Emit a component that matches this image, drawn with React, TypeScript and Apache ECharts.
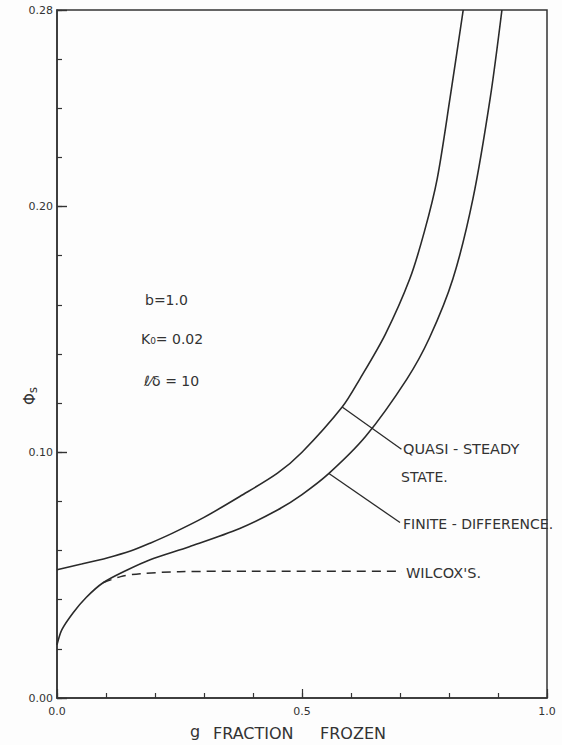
import React, { useEffect, useRef } from "react";
import * as echarts from "echarts";

// Quasi-steady state curve (upper solid)
const quasiG = [0, 0.05, 0.102, 0.15, 0.19, 0.237, 0.3, 0.373, 0.45, 0.5, 0.582, 0.618, 0.67, 0.72, 0.75, 0.776, 0.802, 0.829];
const quasiPhi = [0.0522, 0.0545, 0.057, 0.0598, 0.063, 0.0672, 0.0735, 0.082, 0.0915, 0.1, 0.1184, 0.1298, 0.148, 0.1706, 0.19, 0.2114, 0.244, 0.28];

// Finite-difference curve (lower solid)
const fdG = [0, 0.01, 0.033, 0.06, 0.094, 0.14, 0.19, 0.27, 0.373, 0.45, 0.5, 0.555, 0.63, 0.714, 0.76, 0.808, 0.849, 0.884, 0.908];
const fdPhi = [0.0216, 0.0278, 0.0347, 0.041, 0.0469, 0.0518, 0.0563, 0.0616, 0.069, 0.0765, 0.0828, 0.0914, 0.1065, 0.1298, 0.1465, 0.1706, 0.2033, 0.244, 0.28];

// Wilcox's (dashed)
const wilcoxG = [0.094, 0.13, 0.17, 0.25, 0.4, 0.704];
const wilcoxPhi = [0.0469, 0.0494, 0.0506, 0.0514, 0.0516, 0.0516];

// Leader lines from curves to their labels
const quasiLeaderG = [0.582, 0.703];
const quasiLeaderPhi = [0.1184, 0.1012];
const fdLeaderG = [0.555, 0.7];
const fdLeaderPhi = [0.0914, 0.0714];

// Axis tick settings
const xMinorStep = 0.1;
const xMajorStep = 0.5;
const yMinorStep = 0.02;
const yMajorStep = 0.1;

const zip = (a: number[], b: number[]) => a.map((v, i) => [v, b[i]]);

const INK = "#333333";
const FONT = "'DejaVu Sans', sans-serif";

export default function App() {
  const ref = useRef<HTMLDivElement>(null);

  useEffect(() => {
    if (!ref.current) return;
    const chart = echarts.init(ref.current, undefined, { renderer: "svg" });

    const lineBase = {
      type: "line",
      showSymbol: false,
      symbol: "none",
      xAxisIndex: 0,
      yAxisIndex: 0,
      silent: true,
    };

    const txt = (text: string, x: number, y: number, size: number, extra: any = {}) => ({
      type: "text",
      x,
      y,
      silent: true,
      ...extra,
      style: {
        text,
        fill: INK,
        font: `${size}px ${FONT}`,
        align: "left",
        verticalAlign: "middle",
        textAlign: "left",
        textVerticalAlign: "middle",
        ...(extra.style || {}),
      },
    });

    const option: any = {
      animation: false,
      backgroundColor: "#fdfdfd",
      grid: {
        left: 57,
        right: 15,
        top: 10,
        bottom: 47,
        show: true,
        borderColor: INK,
        borderWidth: 1.5,
        backgroundColor: "transparent",
      },
      xAxis: [
        {
          type: "value",
          min: 0,
          max: 1,
          interval: xMinorStep,
          position: "bottom",
          axisLine: { lineStyle: { color: INK, width: 1.5 } },
          axisTick: { inside: true, length: 5, lineStyle: { color: INK, width: 1.2 } },
          axisLabel: { show: false },
          splitLine: { show: false },
        },
        {
          type: "value",
          min: 0,
          max: 1,
          interval: xMajorStep,
          position: "bottom",
          axisLine: { show: false },
          axisTick: { inside: true, length: 9, lineStyle: { color: INK, width: 1.2 } },
          axisLabel: {
            formatter: (v: number) => v.toFixed(1),
            fontSize: 11,
            color: INK,
            fontFamily: FONT,
            margin: 8,
          },
          splitLine: { show: false },
        },
      ],
      yAxis: [
        {
          type: "value",
          min: 0,
          max: 0.28,
          interval: yMinorStep,
          position: "left",
          axisLine: { lineStyle: { color: INK, width: 1.5 } },
          axisTick: { inside: true, length: 5, lineStyle: { color: INK, width: 1.2 } },
          axisLabel: { show: false },
          splitLine: { show: false },
        },
        {
          type: "value",
          min: 0,
          max: 0.28,
          interval: yMajorStep,
          position: "left",
          axisLine: { show: false },
          axisTick: { inside: true, length: 10, lineStyle: { color: INK, width: 1.4 } },
          axisLabel: {
            formatter: (v: number) => v.toFixed(2),
            fontSize: 11,
            color: INK,
            fontFamily: FONT,
            margin: 4,
            showMaxLabel: true,
          },
          splitLine: { show: false },
        },
      ],
      series: [
        {
          ...lineBase,
          name: "Quasi-steady state",
          data: zip(quasiG, quasiPhi),
          smooth: 0.3,
          lineStyle: { color: "#2a2a2a", width: 1.6 },
        },
        {
          ...lineBase,
          name: "Finite-difference",
          data: zip(fdG, fdPhi),
          smooth: 0.3,
          lineStyle: { color: "#2a2a2a", width: 1.6 },
        },
        {
          ...lineBase,
          name: "Wilcox's",
          data: zip(wilcoxG, wilcoxPhi),
          smooth: 0.3,
          lineStyle: { color: "#2a2a2a", width: 1.5, type: [9, 6] },
        },
        {
          ...lineBase,
          name: "leader-quasi",
          data: zip(quasiLeaderG, quasiLeaderPhi),
          lineStyle: { color: "#2a2a2a", width: 1.3 },
        },
        {
          ...lineBase,
          name: "leader-fd",
          data: zip(fdLeaderG, fdLeaderPhi),
          lineStyle: { color: "#2a2a2a", width: 1.3 },
        },
      ],
      graphic: [
        txt("b=1.0", 145, 300, 14),
        txt("K\u2080= 0.02", 141, 339, 14),
        txt("\u2113\u2044\u03b4 = 10", 144, 381, 14),
        txt("QUASI - STEADY", 403, 449, 14.5),
        txt("STATE.", 401, 477, 14),
        txt("FINITE - DIFFERENCE.", 403, 524, 14),
        txt("WILCOX'S.", 406, 573, 14.5),
        txt("g", 190, 731, 16),
        txt("FRACTION", 213, 733, 16),
        txt("FROZEN", 320, 733, 16),
        {
          type: "text",
          x: 30,
          y: 396,
          rotation: Math.PI / 2,
          silent: true,
          style: {
            text: "{a|\u03a6}{b|s}",
            align: "center",
            verticalAlign: "middle",
            textAlign: "center",
            textVerticalAlign: "middle",
            fill: INK,
            rich: {
              a: { fontSize: 15, fontFamily: FONT, fill: INK, color: INK },
              b: { fontSize: 12, fontFamily: FONT, fill: INK, color: INK, padding: [6, 0, 0, 0] },
            },
          },
        },
      ],
    };

    chart.setOption(option);
    return () => chart.dispose();
  }, []);

  return (
    <div
      ref={ref}
      style={{ position: "absolute", left: 0, top: 0, width: 562, height: 745 }}
    />
  );
}
